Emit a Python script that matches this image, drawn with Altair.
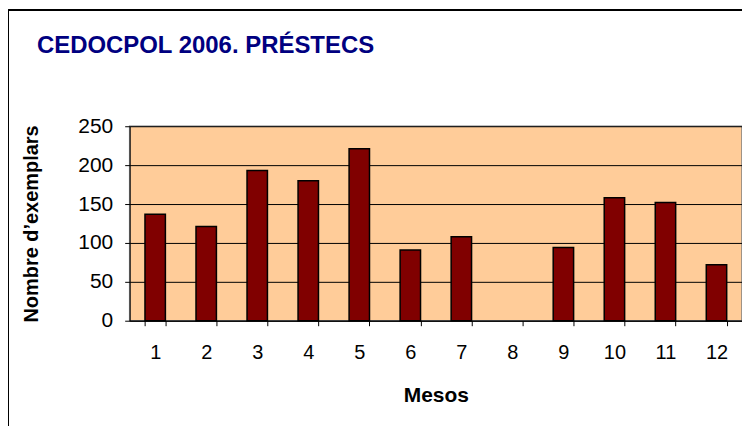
import altair as alt
import pandas as pd

months = ["1", "2", "3", "4", "5", "6", "7", "8", "9", "10", "11", "12"]
loans = [137, 121, 193, 180, 221, 91, 108, 0, 94, 158, 152, 72]
y_ticks = [0, 50, 100, 150, 200, 250]

df = pd.DataFrame({"Mes": months, "Prestecs": loans})

FONT = "Liberation Sans"

bars = alt.Chart(df).mark_bar(
    color="#800000", stroke="#000000", strokeWidth=1.5
).encode(
    x=alt.X(
        "Mes:N",
        sort=months,
        scale=alt.Scale(paddingInner=0.6, paddingOuter=0.3),
        axis=alt.Axis(
            title="Mesos", labelAngle=0, tickBand="extent", tickSize=5,
            tickColor="#000000", domainColor="#000000", labelFontSize=20,
            labelPadding=17, labelFont=FONT, labelColor="#000000",
            titleFont=FONT, titleFontSize=21, titleFontWeight="bold",
            titlePadding=22, titleColor="#000000", grid=False,
        ),
    ),
    y=alt.Y(
        "Prestecs:Q",
        scale=alt.Scale(domain=[0, 250], nice=False),
        axis=alt.Axis(
            title="Nombre d’exemplars", values=y_ticks, tickSize=5,
            tickColor="#000000", domainColor="#000000", labelFontSize=21,
            labelPadding=12, labelFont=FONT, labelColor="#000000",
            titleFont=FONT, titleFontSize=20, titleFontWeight="bold",
            titlePadding=36, titleColor="#000000", grid=True,
            gridColor="#000000", gridOpacity=1, gridWidth=1,
        ),
    ),
    strokeOpacity=alt.condition("datum.Prestecs > 0", alt.value(1), alt.value(0)),
)

frame_left = alt.Chart(df).mark_rule(color="#000000", strokeWidth=1).encode(
    x=alt.value(-121.5), y=alt.value(-116.5), y2=alt.value(500)
)
frame_top = alt.Chart(df).mark_rule(color="#000000", strokeWidth=1).encode(
    x=alt.value(-121.5), x2=alt.value(700), y=alt.value(-116.5)
)

chart = alt.layer(bars, frame_left, frame_top).properties(
    width=614,
    height=195,
    title=alt.TitleParams(
        "CEDOCPOL 2006. PRÉSTECS", anchor="start", frame="group", dx=-93,
        offset=-48.5, font=FONT, fontSize=24, fontWeight="bold", color="#000080",
    ),
    autosize=alt.AutoSizeParams(type="none"),
    padding={"left": 122, "top": 118, "right": 0, "bottom": 105},
    background="#FFFFFF",
).configure_view(
    fill="#FFCC99", stroke="#808080", strokeWidth=1.5
)

chart.save("out.html", embed_options={"renderer": "svg", "actions": False})
